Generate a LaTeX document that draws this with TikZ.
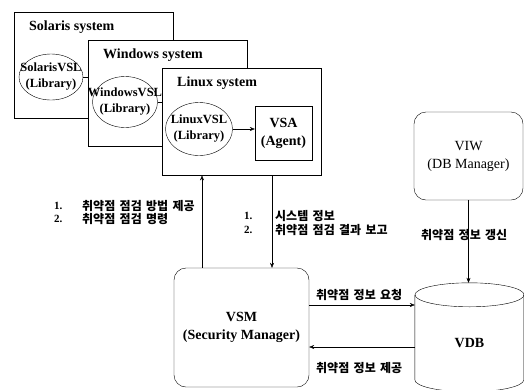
\documentclass[tikz,border=0pt]{standalone}
\usepackage{fontspec}
\setmainfont{Liberation Serif}
\newfontfamily\kor{Noto Sans CJK KR}[WordSpace=1.6]
\usepackage{tikz}
\usetikzlibrary{positioning,arrows.meta,shapes.geometric}

\begin{document}
\begin{tikzpicture}[x=1pt, y=-1pt,
  every node/.style={font=\bfseries\fontsize{14}{18}\selectfont, align=center},
  sysbox/.style={draw, fill=white, anchor=north west, minimum width=159pt, minimum height=106pt, inner sep=0pt},
  vsl/.style={draw, ellipse, inner sep=0pt},
  vsltxt/.style={inner sep=0pt, font=\bfseries\fontsize{12.5}{16}\selectfont},
  rbox/.style={draw, rounded corners=12pt, inner sep=0pt},
  kor/.style={font=\kor\bfseries\fontsize{12}{14}\selectfont, align=left, inner sep=0pt, anchor=west},
  num/.style={font=\bfseries\fontsize{11}{14}\selectfont, inner sep=0pt, anchor=west},
  arr/.style={-{Stealth[length=5pt,width=4pt]}}]
  \useasboundingbox (0,0) rectangle (524,389);
  % the three systems
  \node[sysbox] (solbox) at (14,12) {};
  \node[anchor=west, inner sep=0pt] (soltxt) at ([xshift=15pt,yshift=-15pt]solbox.north west) {Solaris system};
  \node[vsl, minimum width=64pt, minimum height=46pt] (solvsl) at (51,77) {};
  \node[vsltxt] (solname) at (solvsl) {SolarisVSL\\(Library)};
  \node[sysbox] (winbox) at (88,40) {};
  \node[anchor=west, inner sep=0pt] (wintxt) at ([xshift=15pt,yshift=-15pt]winbox.north west) {Windows system};
  \node[vsl, minimum width=65pt, minimum height=51pt] (winvsl) at (125,102) {};
  \node[vsltxt] (winname) at (winvsl) {WindowsVSL\\(Library)};
  \draw (solvsl.east) -- (solvsl.east -| winbox.west);
  \node[sysbox, minimum height=107pt] (linbox) at (162,68) {};
  \node[anchor=west, inner sep=0pt] (lintxt) at ([xshift=15pt,yshift=-15pt]linbox.north west) {Linux system};
  \node[vsl, minimum width=67pt, minimum height=53pt] (linvsl) at (199,129) {};
  \node[vsltxt] (linname) at (linvsl) {LinuxVSL\\(Library)};
  \draw (winvsl.east) -- (winvsl.east -| linbox.west);
  \node[draw, minimum width=57pt, minimum height=54pt, inner sep=0pt] (vsa) at (283.5,133) {VSA\\(Agent)};
  \draw[arr] (linvsl.east) -- (linvsl.east -| vsa.west);

  % managers and database
  \node[rbox, minimum width=135pt, minimum height=119pt] (vsm) at (241.5,327.5) {VSM\\(Security Manager)};
  \node[rbox, minimum width=109pt, minimum height=88pt, font=\fontsize{14}{18}\selectfont] (viw) at (468.5,156) {VIW\\(DB Manager)};
  \node[minimum width=109pt, minimum height=120pt, inner sep=0pt] (vdb) at (469.5,343) {VDB};
  \draw (vdb.north) ++(0,12) ellipse [x radius=54.5pt, y radius=12pt];
  \draw (vdb.north west) ++(0,12) -- ++(0,85) arc[start angle=180, end angle=360, x radius=54.5pt, y radius=12pt] -- ++(0,-85);

  % messages
  \draw[arr] ([xshift=-39.5pt]vsm.north) -- ([xshift=-39.5pt]vsm.north |- linbox.south);
  \draw[arr] ([xshift=30.5pt]vsm.north |- linbox.south) -- ([xshift=30.5pt]vsm.north);
  \draw[arr] (viw.south) -- (viw.south |- vdb.north);
  \draw[arr] ([yshift=22.5pt]vsm.east) -- ([yshift=22.5pt]vsm.east -| vdb.west);
  \draw[arr] ([yshift=-19.5pt]vsm.east -| vdb.west) -- ([yshift=-19.5pt]vsm.east);

  \node[num] (cmd1) at (54,206) {1.};
  \node[kor] (cmd1txt) at (82,206) {취약점 점검 방법 제공};
  \node[num] (cmd2) at (54,219) {2.};
  \node[kor] (cmd2txt) at (82,219) {취약점 점검 명령};
  \node[num] (rep1) at (244,216) {1.};
  \node[kor] (rep1txt) at (275,216) {시스템 정보};
  \node[num] (rep2) at (244,230) {2.};
  \node[kor] (rep2txt) at (275,230) {취약점 점검 결과 보고};
  \node[kor] (updtxt) at (421,235) {취약점 정보 갱신};
  \node[kor] (reqtxt) at (316,295) {취약점 정보 요청};
  \node[kor] (provtxt) at (316,368) {취약점 정보 제공};
\end{tikzpicture}
\end{document}
